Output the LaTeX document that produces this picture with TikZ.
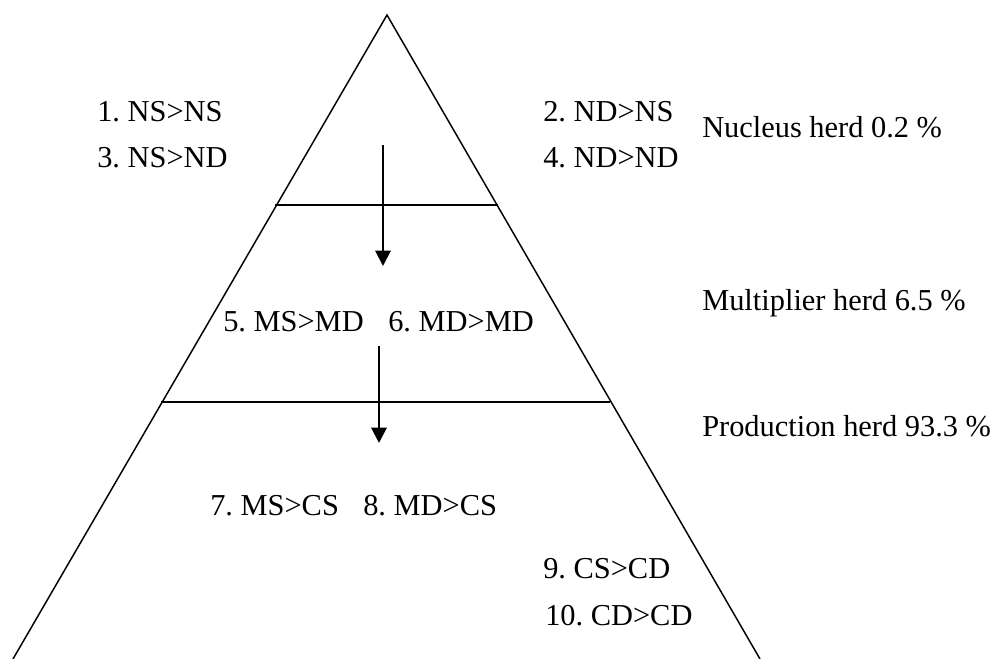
\documentclass[tikz,border=0pt]{standalone}
\usepackage{fontspec}
\setmainfont{Liberation Serif}
\usetikzlibrary{arrows.meta}
\begin{document}
\frenchspacing
\begin{tikzpicture}[x=0.75pt,y=-0.75pt,
  edge/.style={line width=1.1pt},
  flow/.style={line width=1.5pt,-{Triangle[width=11.5pt,length=11.5pt]}},
  lbl/.style={anchor=base west,inner sep=0pt,font=\fontsize{22.8}{27}\selectfont}]
\useasboundingbox (0,0) rectangle (997,659);
% pyramid
\coordinate (apex) at (387,15);
\coordinate (bl) at (13,659);
\coordinate (br) at (760,659);
\draw[edge] (bl) -- (apex) -- (br);
\coordinate (l1a) at (275,205);
\coordinate (l1b) at (498,205);
\coordinate (l2a) at (161,402);
\coordinate (l2b) at (610,402);
\draw[edge] (l1a) -- (l1b);
\draw[edge] (l2a) -- (l2b);
% arrows
\coordinate (a1s) at (383,145);
\coordinate (a1e) at (383,266);
\coordinate (a2s) at (379,346);
\coordinate (a2e) at (379,443);
\draw[flow] (a1s) -- (a1e);
\draw[flow] (a2s) -- (a2e);
% labels
\node[lbl] (t1) at (97,122) {1. NS>NS};
\node[lbl] (t3) at (97,168) {3. NS>ND};
\node[lbl] (t2) at (543,122) {2. ND>NS};
\node[lbl] (t4) at (543,168) {4. ND>ND};
\node[lbl] (t5) at (223,332) {5. MS>MD};
\node[lbl] (t6) at (388,332) {6. MD>MD};
\node[lbl] (t7) at (210,515) {7. MS>CS};
\node[lbl] (t8) at (363,515) {8. MD>CS};
\node[lbl] (t9) at (543,578) {9. CS>CD};
\node[lbl] (t10) at (545,625) {10. CD>CD};
\node[lbl] (nuc) at (702,138) {Nucleus herd 0.2 \%};
\node[lbl] (mul) at (702,311) {Multiplier herd 6.5 \%};
\node[lbl] (pro) at (702,437) {Production herd 93.3 \%};
\end{tikzpicture}
\end{document}
